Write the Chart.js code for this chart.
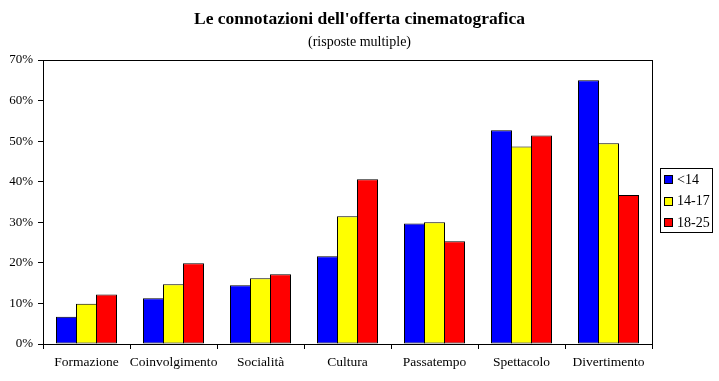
<!DOCTYPE html>
<html>
<head>
<meta charset="utf-8">
<script src="https://cdn.jsdelivr.net/npm/chart.js@4"></script>
<style>
html,body{margin:0;padding:0;background:#fff;}
#wrap{width:719px;height:381px;position:relative;}
</style>
</head>
<body>
<div id="wrap"><canvas id="c" width="719" height="381"></canvas></div>
<script>
const categories = ["Formazione","Coinvolgimento","Socialità","Cultura","Passatempo","Spettacolo","Divertimento"];
const seriesNames = ["<14","14-17","18-25"];
const under14 = [6.7, 11.3, 14.5, 21.6, 29.7, 52.7, 65.0];
const age14to17 = [9.9, 14.7, 16.2, 31.5, 30.0, 48.7, 49.5];
const age18to25 = [12.2, 19.9, 17.2, 40.6, 25.3, 51.4, 36.7];
const yTicks = [0, 10, 20, 30, 40, 50, 60, 70];
const colors = ["#0000FF", "#FFFF00", "#FF0000"];

const SERIF = "'Liberation Serif', 'Times New Roman', serif";

const boxPlugin = {
  id: 'boxPlugin',
  afterDraw(chart) {
    const ctx = chart.ctx;
    const a = chart.chartArea;
    ctx.save();
    ctx.strokeStyle = '#000';
    ctx.lineWidth = 1;
    ctx.strokeRect(Math.round(a.left) + 0.5, Math.round(a.top) + 0.5, Math.round(a.right - a.left), Math.round(a.bottom - a.top));
    // legend
    const lx = Math.round(a.right) + 8, lw = 52, lh = 64;
    const ly = Math.round((a.top + a.bottom) / 2) - 34;
    ctx.strokeRect(lx + 0.5, ly + 0.5, lw, lh);
    ctx.font = "14px " + SERIF;
    ctx.textBaseline = 'middle';
    ctx.textAlign = 'left';
    chart.data.datasets.forEach((ds, i) => {
      const cy = ly + 11 + i * 21.5;
      ctx.fillStyle = ds.backgroundColor;
      ctx.fillRect(lx + 4, Math.round(cy - 4), 8, 8);
      ctx.strokeRect(lx + 4.5, Math.round(cy - 4) + 0.5, 8, 8);
      ctx.fillStyle = '#000';
      ctx.fillText(ds.label, lx + 17, cy + 1);
    });
    ctx.restore();
  }
};

new Chart(document.getElementById('c'), {
  type: 'bar',
  data: {
    labels: categories,
    datasets: [
      { label: seriesNames[0], data: under14, backgroundColor: colors[0] },
      { label: seriesNames[1], data: age14to17, backgroundColor: colors[1] },
      { label: seriesNames[2], data: age18to25, backgroundColor: colors[2] }
    ].map(d => Object.assign(d, { borderColor: '#000', borderWidth: 1, borderSkipped: false, inflateAmount: 0, categoryPercentage: 60 / 87, barPercentage: 1.05 }))
  },
  options: {
    responsive: false,
    animation: false,
    devicePixelRatio: 1,
    layout: { padding: { left: 0, right: 0, top: 0, bottom: 0 } },
    plugins: {
      legend: { display: false },
      tooltip: { enabled: false },
      title: {
        display: true,
        text: "Le connotazioni dell'offerta cinematografica",
        color: '#000',
        font: { family: SERIF, size: 17.5, weight: 'bold', lineHeight: 1.2 },
        padding: { top: 9, bottom: 2 }
      },
      subtitle: {
        display: true,
        text: "(risposte multiple)",
        color: '#000',
        font: { family: SERIF, size: 14, lineHeight: 1.2 },
        padding: { top: 2, bottom: 9.2 }
      }
    },
    scales: {
      x: {
        afterFit(s) { s.height = 37; },
        grid: { display: true, drawOnChartArea: false, drawTicks: true, tickLength: 5, color: '#000', offset: true },
        border: { display: true, color: '#000' },
        ticks: { color: '#000', font: { family: SERIF, size: 13.5 }, padding: 5, maxRotation: 0, autoSkip: false }
      },
      y: {
        min: 0, max: 70,
        afterFit(s) { s.width = 43; },
        afterBuildTicks(s) { s.ticks = yTicks.map(v => ({ value: v })); },
        grid: { display: true, drawOnChartArea: false, drawTicks: true, tickLength: 5, color: '#000' },
        border: { display: true, color: '#000' },
        ticks: { color: '#000', font: { family: SERIF, size: 13 }, padding: 5, callback: v => v + '%' }
      },
      legendSpace: {
        type: 'linear',
        position: 'right',
        display: true,
        afterFit(s) { s.width = 67; },
        grid: { display: false, drawTicks: false },
        border: { display: false },
        ticks: { display: false }
      }
    }
  },
  plugins: [boxPlugin]
});
</script>
</body>
</html>
